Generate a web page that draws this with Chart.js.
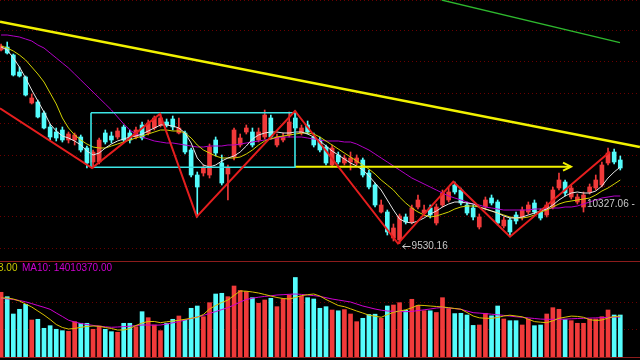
<!DOCTYPE html>
<html><head><meta charset="utf-8">
<script src="https://cdn.jsdelivr.net/npm/chart.js@4.4.1/dist/chart.umd.min.js"></script>
<style>
html,body{margin:0;padding:0;background:#000;}
#wrap{position:relative;width:640px;height:360px;background:#000;overflow:hidden;font-family:"Liberation Sans",Arial,sans-serif;}
canvas{position:absolute;left:0;}
#c1{top:0;}
#c2{top:258px;}
.lbl{position:absolute;font-size:10px;line-height:12px;white-space:nowrap;}
</style></head><body>
<div id="wrap">
<canvas id="c1" width="640" height="258"></canvas>
<canvas id="c2" width="640" height="102"></canvas>
<div id="lowLbl" class="lbl" style="color:#c8c8c8">9530.16</div>
<div id="lvlLbl" class="lbl" style="color:#c8c8c8">10327.06 -</div>
<div class="lbl" style="left:-2px;top:262px;color:#c8c800">3.00</div>
<div class="lbl" style="left:22px;top:262px;color:#d000d0">MA10: 14010370.00</div>
</div>
<script>
// ---- price candles (index points) ----
const opens=[13400,13460,13300,12960,12860,12340,12360,12140,11860,11760,
 11800,11600,11600,11660,11440,11160,11160,11740,11680,11660,
 11860,11740,11660,11900,11740,11840,11900,11960,12020,11740,
 11740,11400,10900,10940,10900,11600,11140,10920,11260,11500,
 11760,11760,11600,11660,12040,11500,11600,11700,12040,11740,
 11900,11660,11600,11460,11100,11300,11140,11160,11140,11200,
 10940,10700,10160,10160,9640,9600,10060,9960,10260,10140,
 10240,9940,10300,10400,10700,10600,10300,10240,9860,10260,
 10440,10360,9880,10000,10100,10060,10160,10340,10160,10100,
 10260,10640,10760,10460,10360,10260,10560,10640,10700,11140,
 11360,11200];
const highs=[13520,13560,13320,13060,12880,12520,12400,12180,11920,11840,
 11860,11760,11740,11700,11480,11400,11640,11800,11760,11840,
 11900,11800,11860,11960,12000,12080,12120,12020,12080,12040,
 11780,11440,10960,11100,11520,11660,11300,11100,11840,11720,
 11900,11840,11840,12200,12100,11720,11740,12160,12180,11900,
 11980,11740,11660,11500,11500,11360,11300,11360,11300,11240,
 11000,10740,10400,10200,9920,10120,10120,10300,10500,10300,
 10300,10320,10600,10660,10760,10640,10360,10300,10120,10460,
 10500,10400,10060,10040,10160,10260,10360,10400,10220,10360,
 10660,10940,10800,10700,10520,10560,10720,10900,11160,11440,
 11420,11280];
const lows=[13380,13320,12880,12860,12480,12320,12040,11820,11600,11580,
 11560,11540,11500,11360,11040,11040,11120,11520,11540,11620,
 11560,11540,11620,11600,11700,11800,11860,11860,11800,11720,
 11320,10860,10060,10880,10840,11280,10700,10400,11200,11460,
 11720,11460,11560,11620,11620,11460,11560,11660,11800,11700,
 11720,11460,11360,11100,11060,11120,11100,11000,11100,10860,
 10620,10260,10140,9700,9580,9530.16,9920,9920,10220,10080,
 10040,9900,10260,10360,10520,10300,10100,10000,9820,10200,
 10300,9900,9840,9666,9920,10000,10120,10120,10000,10060,
 10220,10600,10480,10420,10320,10160,10520,10600,10660,11100,
 11120,11000];
const closes=[13480,13340,12900,12880,12500,12440,12060,11840,11660,11640,
 11600,11720,11700,11400,11140,11360,11600,11560,11600,11780,
 11600,11600,11800,11640,11940,12040,12040,11900,11860,11840,
 11360,10900,10660,11040,11460,11340,10740,11040,11800,11640,
 11840,11500,11760,12100,11660,11660,11660,11960,11840,11840,
 11760,11500,11400,11140,11440,11160,11240,11240,11240,10900,
 10660,10300,10300,9760,9840,10080,9960,10240,10400,10200,
 10100,10260,10540,10560,10560,10340,10140,10060,10060,10400,
 10340,9940,10000,9760,9980,10200,10300,10160,10040,10300,
 10600,10800,10540,10640,10460,10500,10660,10800,11100,11340,
 11160,11040];
// ---- price moving averages ----
const ma5=[13460,13400,13240,13060,12840,12600,12380,12160,11920,11780,
 11680,11640,11580,11500,11380,11300,11340,11440,11520,11580,
 11620,11660,11680,11720,11780,11840,11900,11900,11880,11840,
 11740,11540,11240,11100,11060,11100,11180,11240,11280,11360,
 11480,11620,11700,11740,11760,11760,11740,11740,11760,11760,
 11720,11660,11580,11480,11380,11300,11220,11140,11080,11000,
 10880,10740,10600,10400,10200,10020,9960,9940,9980,10040,
 10120,10180,10260,10320,10360,10360,10340,10320,10260,10220,
 10180,10140,10080,10040,10040,10060,10100,10140,10180,10220,
 10300,10400,10480,10540,10560,10540,10540,10580,10680,10840,
 10960,11060];
const ma10=[13480,13440,13380,13300,13200,13060,12920,12760,12540,12320,
 12040,11840,11700,11600,11520,11460,11440,11440,11480,11520,
 11560,11600,11640,11680,11720,11760,11800,11800,11780,11780,
 11740,11640,11500,11400,11340,11280,11240,11240,11240,11260,
 11320,11400,11500,11580,11620,11660,11680,11700,11720,11740,
 11740,11720,11660,11580,11500,11420,11340,11260,11180,11100,
 11020,10920,10800,10700,10600,10460,10340,10240,10160,10100,
 10060,10080,10120,10160,10220,10260,10280,10280,10260,10220,
 10180,10140,10100,10060,10040,10040,10060,10100,10160,10200,
 10260,10320,10360,10380,10400,10420,10440,10500,10580,10640,
 10720,10800];
const ma20=[13700,13700,13680,13660,13620,13580,13500,13440,13340,13240,
 13140,13040,12920,12800,12680,12560,12440,12320,12200,12060,
 11920,11800,11720,11660,11620,11580,11560,11540,11540,11520,
 11500,11480,11460,11460,11480,11480,11480,11500,11500,11520,
 11540,11560,11580,11600,11620,11640,11660,11660,11660,11660,
 11640,11620,11600,11580,11580,11580,11560,11560,11520,11460,
 11400,11320,11240,11160,11080,11000,10920,10840,10780,10720,
 10660,10600,10540,10480,10440,10400,10360,10320,10300,10260,
 10240,10220,10200,10200,10200,10200,10200,10220,10220,10220,
 10240,10240,10260,10260,10280,10320,10360,10400,10440,10460,
 10480,10480];
// ---- volume (millions of shares) ----
const volumes=[22.65,21.11,15.05,16.70,18.45,12.95,13.20,10.05,10.96,9.70,
 9.21,9.00,12.36,11.80,11.80,9.70,10.85,9.70,8.86,8.65,
 11.80,11.80,10.61,15.86,13.76,11.20,9.21,11.80,13.20,14.35,
 12.95,17.05,17.85,14.11,19.01,22.05,22.30,21.11,24.85,23.28,
 22.93,20.76,18.80,19.95,20.55,17.61,20.37,21.70,27.83,21.35,
 20.76,20.30,17.05,17.61,16.45,16.17,16.59,15.05,12.36,13.55,
 14.88,14.98,13.55,17.85,18.20,19.01,16.35,20.20,18.03,16.21,
 16.17,15.58,20.76,16.94,15.19,15.30,14.70,11.06,11.20,15.30,
 14.42,17.85,13.30,12.71,12.71,11.20,13.23,10.96,11.20,15.05,
 17.26,16.70,13.09,12.71,11.80,11.80,13.30,13.30,14.11,16.45,
 14.70,14.70];
const volMa5=[20.65,20.65,20.30,19.60,18.55,17.50,16.10,14.70,13.13,11.38,
 10.33,9.80,9.98,10.40,10.68,10.85,10.75,10.33,9.98,9.45,
 9.45,9.98,11.03,11.90,12.43,12.43,12.01,12.32,12.60,12.85,
 13.20,13.55,13.90,14.88,16.80,18.03,19.08,19.95,21.53,23.10,
 23.03,22.75,22.40,21.88,21.35,20.83,20.48,20.30,20.83,21.46,
 21.81,22.05,21.35,20.13,19.08,18.03,17.61,16.87,16.10,15.40,
 14.63,14.28,13.90,14.81,15.65,16.10,16.52,17.22,18.13,18.03,
 17.85,17.68,17.50,17.26,16.98,16.73,15.58,14.35,13.72,13.55,
 13.55,13.83,14.35,14.63,14.35,14.07,13.23,12.39,12.18,12.01,
 12.67,13.55,13.93,14.32,14.21,13.90,13.09,12.78,12.95,13.65,
 14.14,14.32];
const volMa10=[20.55,20.37,20.13,19.78,19.32,18.69,18.03,17.40,16.70,15.40,
 14.18,12.88,12.25,11.73,11.38,11.06,10.78,10.57,10.40,10.50,
 10.64,10.78,10.99,11.20,11.20,11.13,11.20,11.55,11.97,12.39,
 12.95,13.48,14.00,14.56,15.26,15.89,16.59,17.29,18.20,19.25,
 20.13,20.58,20.93,21.21,21.42,21.70,21.81,21.95,22.05,21.91,
 21.70,21.49,21.21,20.76,20.30,19.95,19.60,19.25,18.55,17.85,
 17.33,16.80,16.38,16.10,16.00,15.93,15.86,15.96,16.24,16.52,
 16.80,17.15,17.33,17.15,16.94,16.70,16.10,15.51,15.37,15.19,
 14.98,14.77,14.56,14.32,14.07,13.90,13.69,13.48,13.27,13.20,
 13.20,13.20,13.27,13.37,13.48,13.55,13.62,13.69,13.76,13.86,
 14.00,14.01];
// ---- grid levels ----
const priceGrid=[14400,13780,13160,12540,11920,11300,10680,10060,9440];
const volGrid=[9.8,19.25];
// ---- drawn studies (bar index, price) ----
const trendX=[-0.175,104.2], trendY=[13966,11460];
const greenX=[71.87,100.95], greenY=[14400,13546];
const zigzagX=[-0.175,14.83,25.92,31.91,47.94,64.74,73.76,83.01,99.32];
const zigzagY=[12234,11040,12120,10066,12180,9530,10766,9666,11366];
const boxX=[14.67,47.94], boxY=[12146,11054];
const arrowX=[47.94,92.96], arrowY=[11066,11066];
const arrowHeadX=[91.66,92.96,91.66], arrowHeadY=[11146,11066,10986];
const lowIndex=65, lowPrice=9530.16;
const levelIndex=95.57, levelPrice=10327.06;

const RED='#f03a3a', CYAN='#54fcfc';
const xMin=-0.175, xMax=104.215;
const idx=closes.map((_,i)=>i);
const up=i=>closes[i]>=opens[i];
const colorFor=c=>up(c.dataIndex)?RED:CYAN;
const pts=(xs,ys)=>xs.map((x,i)=>({x,y:ys[i]}));
const series=a=>a.map((v,i)=>({x:i,y:v}));
const lineDs=(data,color,w,order)=>({type:'line',data,borderColor:color,borderWidth:w,pointRadius:0,tension:0,fill:false,order});

const boxPts=[{x:boxX[0],y:boxY[0]},{x:boxX[1],y:boxY[0]},{x:boxX[1],y:boxY[1]},{x:boxX[0],y:boxY[1]},{x:boxX[0],y:boxY[0]}];

const labelPlugin={id:'labels',afterDraw(chart){
  const xs=chart.scales.x, ys=chart.scales.y, ctx=chart.ctx;
  const lx=xs.getPixelForValue(lowIndex), ly=Math.round(ys.getPixelForValue(lowPrice)+2.5)+0.5;
  ctx.save(); ctx.strokeStyle='#c8c8c8'; ctx.lineWidth=1;
  ctx.beginPath(); ctx.moveTo(lx+3,ly); ctx.lineTo(lx+11,ly);
  ctx.moveTo(lx+6,ly-2.5); ctx.lineTo(lx+3,ly); ctx.lineTo(lx+6,ly+2.5); ctx.stroke(); ctx.restore();
  const a=document.getElementById('lowLbl'); a.style.left=(lx+12)+'px'; a.style.top=(ly-6.5)+'px';
  const b=document.getElementById('lvlLbl'); b.style.left=xs.getPixelForValue(levelIndex)+'px'; b.style.top=(ys.getPixelForValue(levelPrice)-6)+'px';
}};
const framePlugin={id:'frame',afterDraw(chart){
  const a=chart.chartArea, ctx=chart.ctx;
  ctx.save(); ctx.strokeStyle='#8c1c1c'; ctx.lineWidth=1; ctx.beginPath();
  ctx.moveTo(0,Math.floor(a.top)+0.5); ctx.lineTo(chart.width,Math.floor(a.top)+0.5);
  ctx.moveTo(0,Math.floor(a.bottom)+0.5); ctx.lineTo(chart.width,Math.floor(a.bottom)+0.5);
  ctx.stroke(); ctx.restore();
}};

const yCommon=(min,max,grid)=>({type:'linear',min,max,position:'left',
  ticks:{display:false},grid:{color:'#6a0000',drawTicks:false,lineWidth:1},
  border:{display:false,dash:[1,3]},
  afterBuildTicks:s=>{s.ticks=grid.map(v=>({value:v}));},
  afterFit:s=>{s.width=0;}});
const baseOpts=(ymin,ymax,grid,padding)=>({responsive:false,animation:false,events:[],
  layout:{padding},
  plugins:{legend:{display:false},tooltip:{enabled:false}},
  scales:{x:{type:'linear',min:xMin,max:xMax,display:false,offset:false},y:yCommon(ymin,ymax,grid)}});

new Chart(document.getElementById('c1'),{
  type:'bar',
  data:{datasets:[
    lineDs(pts(trendX,trendY),'#f2f200',2.5,0),
    lineDs(pts(greenX,greenY),'#2eb82e',1.3,0),
    lineDs(pts(zigzagX,zigzagY),'#e61e1e',2,0),
    lineDs(boxPts,'#3ce6e6',1.6,0),
    lineDs(pts(arrowX,arrowY),'#f2f200',2,0),
    lineDs(pts(arrowHeadX,arrowHeadY),'#f2f200',2,0),
    lineDs(series(ma5),'#e6e6e6',1,1),
    lineDs(series(ma10),'#d2d200',1,1),
    lineDs(series(ma20),'#b400c8',1,1),
    {type:'bar',data:idx.map(i=>({x:i,y:[opens[i],closes[i]]})),backgroundColor:colorFor,barThickness:4,grouped:false,order:5},
    {type:'bar',data:idx.map(i=>({x:i,y:[lows[i],highs[i]]})),backgroundColor:colorFor,barThickness:1,grouped:false,order:6}
  ]},
  options:baseOpts(9240,14400,priceGrid,0),
  plugins:[labelPlugin]
});

new Chart(document.getElementById('c2'),{
  type:'bar',
  data:{datasets:[
    lineDs(series(volMa5),'#d8c000',1,0),
    lineDs(series(volMa10),'#d000d0',1,0),
    {type:'bar',data:series(volumes),backgroundColor:colorFor,barThickness:4,grouped:false,order:5}
  ]},
  options:baseOpts(0,33.6,volGrid,{top:3,bottom:3,left:0,right:0}),
  plugins:[framePlugin]
});
</script>
</body></html>
